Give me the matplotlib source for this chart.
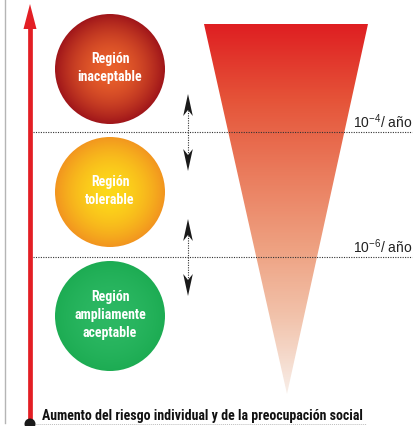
import numpy as np
import matplotlib
matplotlib.use("Agg")
import matplotlib.pyplot as plt
from matplotlib import font_manager
from matplotlib.colors import LinearSegmentedColormap
from matplotlib.patches import Circle, Polygon

# ── Data ─────────────────────────────────────────────
regions = ["Región\ninaceptable", "Región\ntolerable", "Región\nampliamente\naceptable"]
region_inner = ["#e9602b", "#fdd81a", "#2cb863"]
region_outer = ["#a0161a", "#f2951f", "#1dac53"]
thresholds = [r"10$^{-4}$/ año", r"10$^{-6}$/ año"]
axis_label = "Aumento del riesgo individual y de la preocupación social"
funnel_colors = ["#df1f22", "#e55338", "#ea7b5c", "#eea080", "#f2c4ad", "#f8eee8"]

# ── Layout (pixel coordinates) ───────────────────────
W, H = 416, 427
circle_x, circle_r = 110, 55
circle_y = [70, 193, 317]
line_y = [133, 258]
arrow_x = 30
tri_top, tri_left, tri_right = 25, 204, 368
tri_apex = (287, 395)


def pick_font(cands):
    for name in cands:
        try:
            font_manager.findfont(name, fallback_to_default=False)
            return name
        except Exception:
            pass
    return "DejaVu Sans"


narrow = pick_font(["Roboto Condensed", "Liberation Sans Narrow", "Arial Narrow",
                    "Liberation Sans", "Roboto"])
plain = pick_font(["Liberation Sans", "Arial", "Roboto"])
plt.rcParams["mathtext.fontset"] = "custom"
plt.rcParams["mathtext.rm"] = plain
plt.rcParams["mathtext.it"] = plain

fig = plt.figure(figsize=(W / 100, H / 100), dpi=100)
ax = fig.add_axes([0, 0, 1, 1])

# left gray frame line
ax.plot([5, 5], [0, 424], color="#b5b5b5", lw=1)

# bottom dotted baseline
ax.plot([36, 366], [425, 425], color="#bdbdbd", lw=0.7, ls=(0, (1, 1)))

# red vertical arrow
ax.plot([arrow_x, arrow_x], [425, 26], color="#e31e24", lw=3.4, solid_capstyle="butt")
ax.add_patch(Polygon([(arrow_x, 5), (arrow_x - 6.5, 30), (arrow_x + 6.5, 30)],
                     closed=True, color="#e31e24", lw=0))
ax.add_patch(Circle((arrow_x, 425), 5.5, color="#1a1a1a", lw=0, zorder=5))

# threshold lines + labels
for y, lab in zip(line_y, thresholds):
    ax.plot([33, 412], [y, y], color="#333333", lw=0.8, ls=(0, (1, 1.2)), zorder=4)
    ax.text(412, y - 5, lab, ha="right", va="baseline", fontsize=10,
            family=[plain, "DejaVu Sans"], color="#222222", zorder=4)

# funnel gradient
grad = np.linspace(0, 1, 400).reshape(-1, 1)
cmap_f = LinearSegmentedColormap.from_list("funnel", funnel_colors)
im = ax.imshow(grad, cmap=cmap_f, aspect="auto", origin="upper",
               extent=(tri_left, tri_right, tri_apex[1], tri_top), zorder=1)
tri = Polygon([(tri_left, tri_top), (tri_right, tri_top), tri_apex],
              closed=True, facecolor="none", edgecolor="none")
ax.add_patch(tri)
im.set_clip_path(tri)

# circles with radial gradient
yy, xx = np.mgrid[-1:1:200j, -1:1:200j]
rad = np.clip(np.sqrt(xx ** 2 + yy ** 2), 0, 1)
for cy, lab, c_in, c_out in zip(circle_y, regions, region_inner, region_outer):
    cm = LinearSegmentedColormap.from_list("c", [c_in, c_out])
    img = ax.imshow(rad ** 1.8, cmap=cm, vmin=0, vmax=1, origin="upper",
                    extent=(circle_x - circle_r, circle_x + circle_r,
                            cy + circle_r, cy - circle_r), zorder=2)
    circ = Circle((circle_x, cy), circle_r, facecolor="none", edgecolor="none")
    ax.add_patch(circ)
    img.set_clip_path(circ)
    ax.text(circle_x, cy - 2, lab, ha="center", va="center", color="white",
            fontsize=10, fontweight="bold", family=[narrow, "DejaVu Sans"],
            linespacing=1.4, zorder=3)

# double-headed dotted arrows at the thresholds
def dart(tip_y, direction):
    # direction -1 points up, +1 points down
    x = 188
    L, w, notch = 22, 4.8, 6
    base = tip_y - direction * L
    pts = [(x, tip_y), (x - w, base), (x, base + direction * notch), (x + w, base)]
    ax.add_patch(Polygon(pts, closed=True, color="#1a1a1a", lw=0, zorder=4))

for y in line_y:
    ax.plot([188, 188], [y - 22, y + 22], color="#333333", lw=0.8,
            ls=(0, (1, 1.2)), zorder=4)
    dart(y - 38, -1)
    dart(y + 39, 1)

# bottom axis label
ax.text(42, 416, axis_label, ha="left", va="center", fontsize=10,
        fontweight="bold", family=[narrow, "DejaVu Sans"], color="#111111", zorder=4)

ax.set_xlim(0, W)
ax.set_ylim(H, 0)
ax.axis("off")
fig.savefig("out.png", dpi=100, facecolor="white")
